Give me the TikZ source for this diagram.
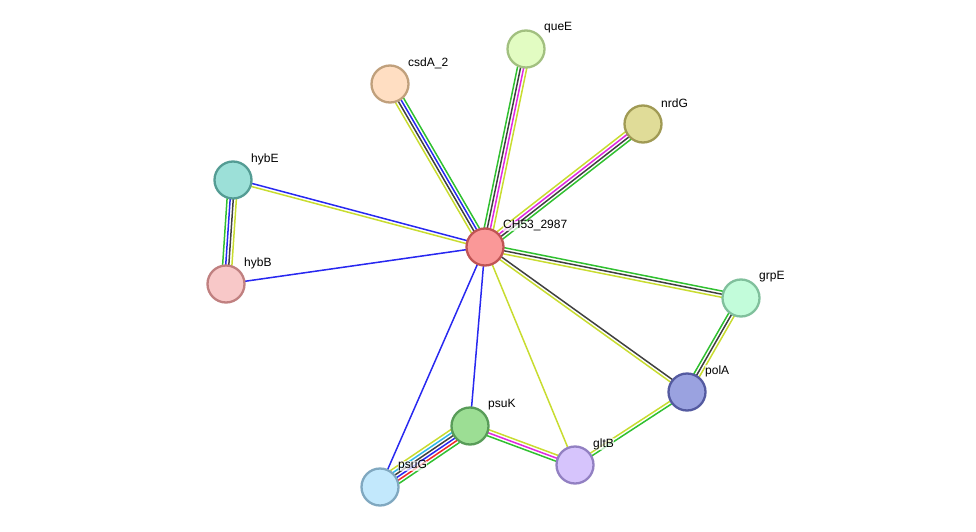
\documentclass[tikz,border=0pt]{standalone}
\usepackage{fontspec}
\setmainfont{Liberation Sans}
\usetikzlibrary{calc,backgrounds}
\definecolor{ctm}{HTML}{C8DC30}
\definecolor{cco}{HTML}{404040}
\definecolor{cbl}{HTML}{2828F0}
\definecolor{cgr}{HTML}{30C030}
\definecolor{cmg}{HTML}{E028E0}
\definecolor{ccy}{HTML}{30B8E8}
\definecolor{crd}{HTML}{F02828}
\tikzset{
  prot/.style={circle, minimum size=37pt, inner sep=0pt, line width=2.3pt},
  lbl/.style={anchor=west, font=\fontsize{12}{14}\selectfont, inner sep=0pt, fill=white, fill opacity=0.7, text opacity=1},
  edge/.style={line width=1.5pt}
}
\newcommand\medge[4]{%
  \foreach \c [count=\i] in {#4}{%
    \pgfmathsetmacro\off{((#3+1)/2-\i)*3.1}%
    \draw[edge, \c] ($(#1)!\off pt!90:(#2)$) -- ($(#2)!\off pt!-90:(#1)$);%
  }%
}
\begin{document}
\begin{tikzpicture}[x=1pt,y=-1pt]
\useasboundingbox (0,0) rectangle (976,532);
\node[prot, fill={rgb,255:red,250;green,152;blue,152}, draw={rgb,255:red,192;green,84;blue,84}] (ch) at (485,247) {};
\node[prot, fill={rgb,255:red,226;green,252;blue,194}, draw={rgb,255:red,162;green,192;blue,128}] (queE) at (526,49) {};
\node[prot, fill={rgb,255:red,255;green,222;blue,194}, draw={rgb,255:red,192;green,160;blue,124}] (csdA) at (390,84) {};
\node[prot, fill={rgb,255:red,224;green,220;blue,152}, draw={rgb,255:red,160;green,154;blue,84}] (nrdG) at (643,124) {};
\node[prot, fill={rgb,255:red,156;green,224;blue,216}, draw={rgb,255:red,84;green,156;blue,148}] (hybE) at (233,180) {};
\node[prot, fill={rgb,255:red,248;green,200;blue,200}, draw={rgb,255:red,192;green,128;blue,128}] (hybB) at (226,284) {};
\node[prot, fill={rgb,255:red,194;green,252;blue,218}, draw={rgb,255:red,128;green,192;blue,156}] (grpE) at (741,298) {};
\node[prot, fill={rgb,255:red,154;green,162;blue,224}, draw={rgb,255:red,84;green,90;blue,160}] (polA) at (687,392) {};
\node[prot, fill={rgb,255:red,156;green,222;blue,148}, draw={rgb,255:red,88;green,156;blue,88}] (psuK) at (470,426) {};
\node[prot, fill={rgb,255:red,214;green,196;blue,252}, draw={rgb,255:red,146;green,128;blue,194}] (gltB) at (575,465) {};
\node[prot, fill={rgb,255:red,194;green,232;blue,252}, draw={rgb,255:red,128;green,168;blue,192}] (psuG) at (380,487) {};
\begin{pgfonlayer}{background}
\medge{ch}{queE}{4}{cgr,cco,cmg,ctm}
\medge{ch}{csdA}{4}{ctm,cco,cbl,cgr}
\medge{ch}{nrdG}{4}{ctm,cmg,cco,cgr}
\medge{ch}{hybE}{2}{ctm,cbl}
\medge{ch}{hybB}{1}{cbl}
\medge{hybE}{hybB}{4}{ctm,cco,cbl,cgr}
\medge{ch}{grpE}{3}{cgr,cco,ctm}
\medge{ch}{polA}{2}{cco,ctm}
\medge{ch}{gltB}{1}{ctm}
\medge{ch}{psuK}{1}{cbl}
\medge{ch}{psuG}{1}{cbl}
\medge{grpE}{polA}{3}{ctm,cco,cgr}
\medge{polA}{gltB}{2}{cgr,ctm}
\medge{psuK}{gltB}{3}{ctm,cmg,cgr}
\medge{psuK}{psuG}{6}{cgr,crd,cbl,cco,ccy,ctm}
\end{pgfonlayer}
\node[lbl] (tch) at ([shift={(18,-21)}]ch.center) {CH53\_2987};
\node[lbl] (tqueE) at ([shift={(18,-21)}]queE.center) {queE};
\node[lbl] (tcsdA) at ([shift={(18,-21)}]csdA.center) {csdA\_2};
\node[lbl] (tnrdG) at ([shift={(18,-21)}]nrdG.center) {nrdG};
\node[lbl] (thybE) at ([shift={(18,-21)}]hybE.center) {hybE};
\node[lbl] (thybB) at ([shift={(18,-21)}]hybB.center) {hybB};
\node[lbl] (tgrpE) at ([shift={(18,-21)}]grpE.center) {grpE};
\node[lbl] (tpolA) at ([shift={(18,-21)}]polA.center) {polA};
\node[lbl] (tpsuK) at ([shift={(18,-21)}]psuK.center) {psuK};
\node[lbl] (tgltB) at ([shift={(18,-21)}]gltB.center) {gltB};
\node[lbl] (tpsuG) at ([shift={(18,-21)}]psuG.center) {psuG};
\end{tikzpicture}
\end{document}
